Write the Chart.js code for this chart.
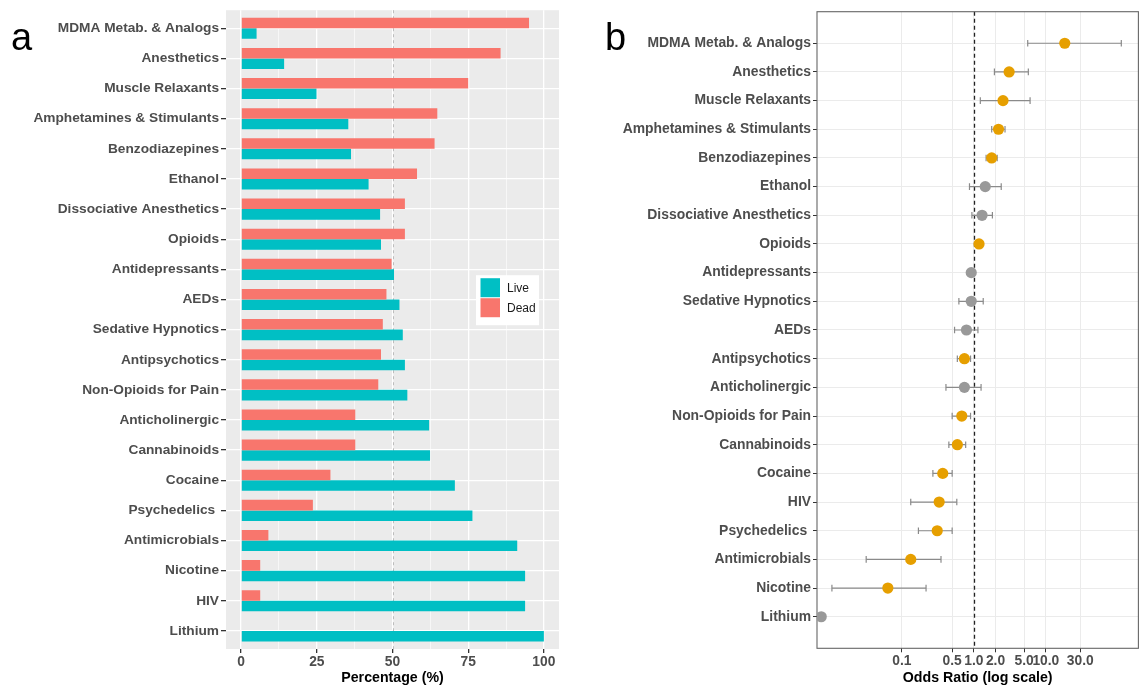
<!DOCTYPE html>
<html>
<head>
<meta charset="utf-8">
<script src="https://cdn.jsdelivr.net/npm/chart.js@4.4.1/dist/chart.umd.min.js"></script>
<style>
  body { margin: 0; background: #fff; width: 1144px; height: 689px; overflow: hidden; position: relative; font-family: "Liberation Sans", Arial, sans-serif; }
  .panel { position: absolute; top: 0; height: 689px; }
  #wrapA { left: 0; width: 575px; }
  #wrapB { left: 590px; width: 554px; }
  .tag { position: absolute; font-size: 38px; line-height: 1; color: #000; z-index: 2; }
</style>
</head>
<body>
<div class="tag" style="left:11px;top:18px">a</div>
<div class="tag" style="left:605px;top:18px">b</div>
<div class="panel" id="wrapA"><canvas id="chartA"></canvas></div>
<div class="panel" id="wrapB"><canvas id="chartB"></canvas></div>
<script>
// ---- panel a: share of cases by outcome ----
const categoriesA = ['MDMA Metab. & Analogs', 'Anesthetics', 'Muscle Relaxants', 'Amphetamines & Stimulants',
  'Benzodiazepines', 'Ethanol', 'Dissociative Anesthetics', 'Opioids', 'Antidepressants', 'AEDs',
  'Sedative Hypnotics', 'Antipsychotics', 'Non-Opioids for Pain', 'Anticholinergic', 'Cannabinoids',
  'Cocaine', 'Psychedelics ', 'Antimicrobials', 'Nicotine', 'HIV', 'Lithium'];
const deadPct = [95.1, 85.7, 75.0, 64.8, 63.9, 58.1, 54.1, 54.1, 49.7, 48.0, 46.8, 46.2, 45.3, 37.7, 37.7, 29.5, 23.7, 9.0, 6.3, 6.3, 0];
const livePct = [5.1, 14.2, 24.9, 35.4, 36.3, 42.1, 45.9, 46.2, 50.5, 52.3, 53.4, 54.1, 54.9, 62.1, 62.4, 70.6, 76.4, 91.2, 93.8, 93.8, 100];
const xTicksA = [0, 25, 50, 75, 100];

// ---- panel b: odds ratios with 95% CI ----
const categoriesB = ['MDMA Metab. & Analogs', 'Anesthetics', 'Muscle Relaxants', 'Amphetamines & Stimulants',
  'Benzodiazepines', 'Ethanol', 'Dissociative Anesthetics', 'Opioids', 'Antidepressants', 'Sedative Hypnotics',
  'AEDs', 'Antipsychotics', 'Anticholinergic', 'Non-Opioids for Pain', 'Cannabinoids', 'Cocaine', 'HIV',
  'Psychedelics ', 'Antimicrobials', 'Nicotine', 'Lithium'];
const oddsRatio = [18.3, 3.09, 2.54, 2.20, 1.77, 1.44, 1.30, 1.18, 0.92, 0.92, 0.79, 0.74, 0.74, 0.68, 0.59, 0.37, 0.33, 0.31, 0.133, 0.064, 0.0076];
const ciLow  = [5.6, 1.93, 1.23, 1.77, 1.48, 0.87, 0.94, 1.10, 0.86, 0.62, 0.54, 0.59, 0.41, 0.50, 0.45, 0.27, 0.133, 0.17, 0.032, 0.0107, null];
const ciHigh = [111.6, 5.71, 6.04, 2.71, 2.11, 2.40, 1.81, 1.27, 0.99, 1.35, 1.14, 0.90, 1.26, 0.90, 0.77, 0.50, 0.58, 0.50, 0.35, 0.217, null];
const significant = [true, true, true, true, true, false, false, true, false, false, false, true, false, true, true, true, true, true, true, true, false];
const xTicksB = [0.1, 0.5, 1, 2, 5, 10, 30];
const xTickLabelsB = ['0.1', '0.5', '1.0', '2.0', '5.0', '10.0', '30.0'];

const FONT = '"Liberation Sans", Arial, sans-serif';
const AXIS_TXT = '#4D4D4D';
const TICK_MARK = '#333333';
Chart.defaults.font.family = FONT;

const panelBg = {
  id: 'panelBg',
  beforeDraw(chart, args, opts) {
    const { ctx, chartArea: a } = chart;
    ctx.save();
    ctx.fillStyle = opts.color;
    ctx.fillRect(a.left, a.top, a.right - a.left, a.bottom - a.top);
    ctx.restore();
  }
};

const refLine = {
  id: 'refLine',
  beforeDatasetsDraw(chart, args, opts) {
    const { ctx, chartArea: a } = chart;
    const x = Math.round(chart.scales.x.getPixelForValue(opts.value)) + 0.5;
    ctx.save();
    ctx.strokeStyle = opts.color;
    ctx.lineWidth = opts.width;
    ctx.setLineDash(opts.dash);
    ctx.beginPath();
    ctx.moveTo(x, a.top);
    ctx.lineTo(x, a.bottom);
    ctx.stroke();
    if (opts.box) {
      ctx.setLineDash([]);
      ctx.strokeStyle = opts.box;
      ctx.lineWidth = 1.1;
      ctx.strokeRect(a.left, a.top, a.right - a.left, a.bottom - a.top);
    }
    ctx.restore();
  }
};

// legend box drawn inside the panel, Live listed first
const insideLegend = {
  id: 'insideLegend',
  afterDraw(chart) {
    const { ctx, chartArea: a } = chart;
    const items = chart.data.datasets.slice().reverse();
    const x0 = a.right - 83, y0 = a.top + 265;
    ctx.save();
    ctx.fillStyle = '#ffffff';
    ctx.fillRect(x0, y0, 63, 50);
    items.forEach((ds, i) => {
      ctx.fillStyle = ds.backgroundColor;
      ctx.fillRect(x0 + 4.5, y0 + 3 + i * 20, 19.5, 19);
      ctx.fillStyle = '#1a1a1a';
      ctx.font = '12px ' + FONT;
      ctx.textBaseline = 'middle';
      ctx.fillText(ds.label, x0 + 31, y0 + 13 + i * 20.5);
    });
    ctx.restore();
  }
};

new Chart(document.getElementById('chartA'), {
  type: 'bar',
  data: {
    datasets: [
      { label: 'Dead', data: deadPct.map((v, i) => ({ x: v, y: i })), backgroundColor: '#F8766D' },
      { label: 'Live', data: livePct.map((v, i) => ({ x: v, y: i })), backgroundColor: '#00BFC4' }
    ]
  },
  options: {
    indexAxis: 'y',
    responsive: true,
    maintainAspectRatio: false,
    animation: false,
    layout: { padding: { top: 9, right: 16, bottom: 0, left: 0 } },
    datasets: { bar: { categoryPercentage: 0.7, barPercentage: 1 } },
    scales: {
      x: {
        type: 'linear',
        min: -5,
        max: 105,
        afterBuildTicks: s => {
          const t = [];
          xTicksA.forEach((v, i) => {
            t.push({ value: v });
            if (i < xTicksA.length - 1) t.push({ value: (v + xTicksA[i + 1]) / 2 });
          });
          s.ticks = t;
        },
        afterFit: s => { s.height = 40; },
        border: { display: false },
        grid: {
          color: '#ffffff',
          lineWidth: c => (c.tick && xTicksA.includes(c.tick.value) ? 1.3 : 0.6),
          tickColor: c => (c.tick && xTicksA.includes(c.tick.value) ? TICK_MARK : 'rgba(0,0,0,0)'),
          tickLength: 4
        },
        ticks: {
          autoSkip: false,
          maxRotation: 0,
          padding: 1,
          color: AXIS_TXT,
          font: { size: 13.8, weight: 'bold' },
          callback: v => (xTicksA.includes(v) ? String(v) : '')
        },
        title: {
          display: true,
          text: 'Percentage (%)',
          color: '#000',
          font: { size: 14.2, weight: 'bold' },
          padding: { top: 0, bottom: 2.6 }
        }
      },
      y: {
        type: 'linear',
        reverse: true,
        offset: false,
        min: -0.6,
        max: 20.6,
        afterBuildTicks: s => { s.ticks = categoriesA.map((_, i) => ({ value: i })); },
        afterFit: s => { s.width = 226; },
        border: { display: false },
        grid: { offset: false, color: '#ffffff', lineWidth: 1.3, tickColor: TICK_MARK, tickLength: 5 },
        ticks: {
          autoSkip: false,
          padding: 2,
          color: AXIS_TXT,
          font: { size: 13.7, weight: 'bold' },
          callback: v => categoriesA[v]
        }
      }
    },
    plugins: {
      legend: { display: false },
      tooltip: { enabled: false },
      panelBg: { color: '#EBEBEB' },
      refLine: { value: 50, color: '#BDBDBD', width: 1, dash: [3, 3] }
    }
  },
  plugins: [panelBg, refLine, insideLegend]
});

// error bar segments and caps, built from the CI arrays
const errSegments = [];
const errCaps = [];
oddsRatio.forEach((_, i) => {
  const has = ciLow[i] != null;
  errSegments.push({ x: ciLow[i], y: has ? i : null }, { x: ciHigh[i], y: has ? i : null }, { x: null, y: null });
  if (has) errCaps.push({ x: ciLow[i], y: i }, { x: ciHigh[i], y: i });
});

new Chart(document.getElementById('chartB'), {
  type: 'scatter',
  data: {
    datasets: [
      {
        label: 'OR',
        data: oddsRatio.map((v, i) => ({ x: v, y: i })),
        pointRadius: 5.6,
        pointBorderWidth: 0,
        pointBackgroundColor: significant.map(s => (s ? '#E69F00' : '#999999'))
      },
      {
        type: 'line',
        label: 'CI',
        data: errSegments,
        borderColor: '#8A8A8A',
        borderWidth: 1.2,
        pointRadius: 0,
        spanGaps: false,
        fill: false
      },
      {
        label: 'caps',
        data: errCaps,
        pointStyle: 'line',
        rotation: 90,
        pointRadius: 3.3,
        borderColor: '#8A8A8A',
        pointBorderWidth: 1.2
      }
    ]
  },
  options: {
    responsive: true,
    maintainAspectRatio: false,
    animation: false,
    layout: { padding: { top: 11.7, right: 1.5, bottom: 0, left: 0 } },
    scales: {
      x: {
        type: 'logarithmic',
        min: 0.00664,
        max: 192.8,
        afterBuildTicks: s => { s.ticks = xTicksB.map(v => ({ value: v })); },
        afterFit: s => { s.height = 40.7; },
        border: { display: false },
        grid: { color: '#EBEBEB', lineWidth: 1, tickColor: TICK_MARK, tickLength: 4 },
        ticks: {
          autoSkip: false,
          maxRotation: 0,
          minRotation: 0,
          padding: 1,
          color: AXIS_TXT,
          font: { size: 13.8, weight: 'bold' },
          callback: (v, i) => xTickLabelsB[i]
        },
        title: {
          display: true,
          text: 'Odds Ratio (log scale)',
          color: '#000',
          font: { size: 14.2, weight: 'bold' },
          padding: { top: 0, bottom: 2.6 }
        }
      },
      y: {
        type: 'linear',
        reverse: true,
        min: -1.1,
        max: 21.1,
        afterBuildTicks: s => { s.ticks = categoriesB.map((_, i) => ({ value: i })); },
        afterFit: s => { s.width = 227; },
        border: { display: false },
        grid: { color: '#EBEBEB', lineWidth: 1, tickColor: TICK_MARK, tickLength: 4 },
        ticks: {
          autoSkip: false,
          padding: 2,
          color: AXIS_TXT,
          font: { size: 13.9, weight: 'bold' },
          callback: v => categoriesB[v]
        }
      }
    },
    plugins: {
      legend: { display: false },
      tooltip: { enabled: false },
      panelBg: { color: '#ffffff' },
      refLine: { value: 1, color: '#222222', width: 1.3, dash: [4, 3], box: '#666666' }
    }
  },
  plugins: [panelBg, refLine]
});
</script>
</body>
</html>
